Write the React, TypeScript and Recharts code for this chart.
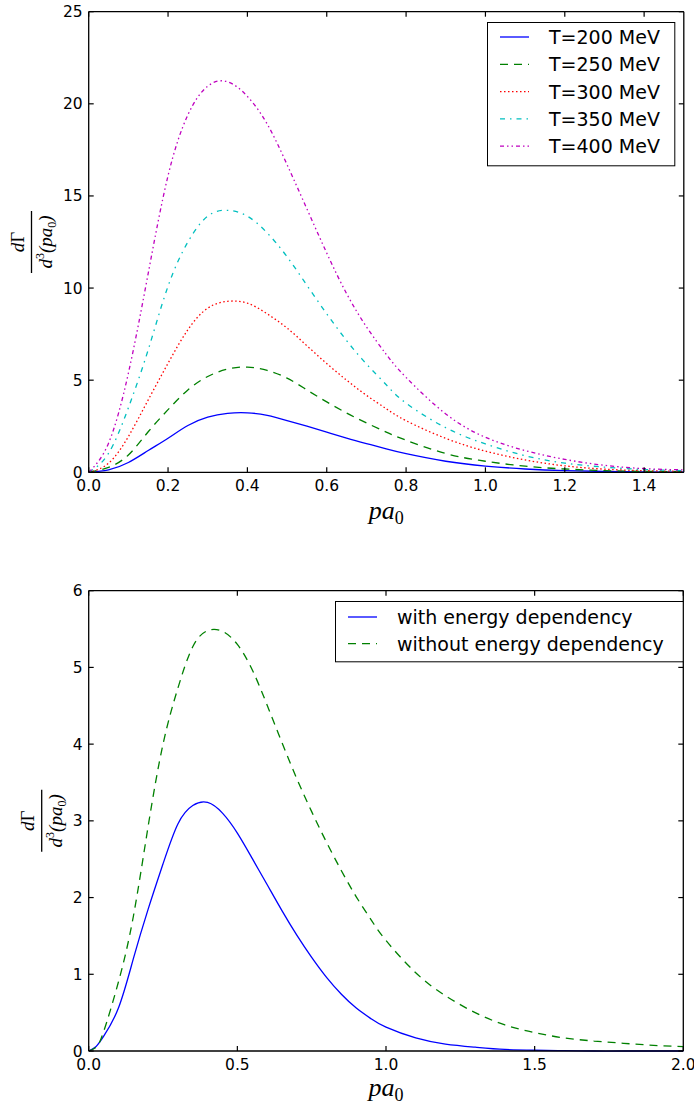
import React from 'react';
import { LineChart, Line, XAxis, YAxis, Legend, ReferenceLine } from 'recharts';

// ---------- top chart data ----------
const xTop = [0, 0.05, 0.1, 0.15, 0.2, 0.25, 0.3, 0.35, 0.4, 0.45, 0.5, 0.55, 0.6, 0.65, 0.7, 0.75, 0.8, 0.9, 1.0, 1.1, 1.2, 1.3, 1.4, 1.5];
const t200 = [0, 0.13, 0.53, 1.18, 1.85, 2.54, 2.99, 3.2, 3.23, 3.09, 2.81, 2.5, 2.18, 1.86, 1.56, 1.27, 1.01, 0.6, 0.34, 0.18, 0.09, 0.05, 0.02, 0.01];
const t250 = [0, 0.27, 0.94, 2.2, 3.4, 4.47, 5.2, 5.6, 5.71, 5.53, 5.11, 4.47, 3.82, 3.22, 2.68, 2.18, 1.74, 1.02, 0.6, 0.33, 0.18, 0.09, 0.05, 0.03];
const t300 = [0, 0.49, 1.94, 3.93, 5.92, 7.74, 8.91, 9.28, 9.18, 8.6, 7.83, 6.87, 5.9, 5.0, 4.18, 3.45, 2.8, 1.84, 1.15, 0.67, 0.35, 0.17, 0.09, 0.05];
const t350 = [0, 1.03, 3.5, 6.65, 10.1, 12.5, 13.9, 14.22, 13.9, 12.99, 11.7, 10.15, 8.6, 7.15, 5.88, 4.75, 3.75, 2.42, 1.54, 0.9, 0.5, 0.28, 0.15, 0.09];
const t400 = [0, 1.58, 5.38, 10.8, 16.1, 19.4, 20.96, 21.2, 20.4, 18.9, 16.7, 14.3, 11.9, 9.7, 7.9, 6.4, 5.15, 3.17, 1.9, 1.18, 0.7, 0.38, 0.2, 0.13];
const topXTicks = [0, 0.2, 0.4, 0.6, 0.8, 1.0, 1.2, 1.4];
const topYTicks = [0, 5, 10, 15, 20, 25];
const topNames = ['T=200 MeV', 'T=250 MeV', 'T=300 MeV', 'T=350 MeV', 'T=400 MeV'];

// ---------- bottom chart data ----------
const xBot = [0, 0.025, 0.05, 0.1, 0.15, 0.2, 0.25, 0.3, 0.35, 0.4, 0.45, 0.5, 0.55, 0.6, 0.65, 0.7, 0.75, 0.8, 0.85, 0.9, 0.95, 1.0, 1.1, 1.2, 1.3, 1.4, 1.5, 1.6, 1.7, 1.8, 1.9, 2.0];
const withE = [0, 0.06, 0.19, 0.56, 1.2, 1.85, 2.44, 2.96, 3.2, 3.24, 3.1, 2.84, 2.51, 2.17, 1.83, 1.51, 1.22, 0.96, 0.74, 0.56, 0.42, 0.31, 0.17, 0.09, 0.05, 0.02, 0.01, 0.005, 0, 0, 0, 0];
const withoutE = [0, 0.05, 0.25, 0.9, 1.75, 2.93, 4.0, 4.73, 5.27, 5.48, 5.47, 5.3, 4.97, 4.51, 4.02, 3.55, 3.12, 2.72, 2.35, 2.01, 1.71, 1.44, 1.02, 0.72, 0.5, 0.34, 0.24, 0.17, 0.13, 0.1, 0.074, 0.057];
const botXTicks = [0, 0.5, 1.0, 1.5, 2.0];
const botYTicks = [0, 1, 2, 3, 4, 5, 6];
const botNames = ['with energy dependency', 'without energy dependency'];

const topSeries = [
  { key: 't200', name: topNames[0], values: t200, color: '#0000ff', dash: undefined },
  { key: 't250', name: topNames[1], values: t250, color: '#008000', dash: '8 6' },
  { key: 't300', name: topNames[2], values: t300, color: '#ff0000', dash: '1.5 2.5' },
  { key: 't350', name: topNames[3], values: t350, color: '#00bfbf', dash: '5 5 1.5 5' },
  { key: 't400', name: topNames[4], values: t400, color: '#bf00bf', dash: '4 3 1.5 3 1.5 3' },
];
const botSeries = [
  { key: 'withE', name: botNames[0], values: withE, color: '#0000ff', dash: undefined },
  { key: 'withoutE', name: botNames[1], values: withoutE, color: '#008000', dash: '8 6' },
];

const topData = xTop.map((x, i) => {
  const row: any = { x };
  topSeries.forEach((s) => (row[s.key] = s.values[i]));
  return row;
});
const botData = xBot.map((x, i) => {
  const row: any = { x };
  botSeries.forEach((s) => (row[s.key] = s.values[i]));
  return row;
});

const SANS = "'DejaVu Sans', sans-serif";
const SERIF = "'Liberation Serif', 'DejaVu Serif', serif";
const TICK_FS = 15.5;
const X_MARGIN = 8;
const Y_MARGIN = 6;
const TICK_LEN = 5;
const YAXIS_W = 88.7;

const YFrac = ({ cx, cy }: { cx: number; cy: number }) => (
  <g transform={`translate(${cx},${cy}) rotate(-90)`} fontFamily={SERIF} fill="#000">
    <text x={0} y={-8} textAnchor="middle" fontSize={19} fontStyle="italic">
      d<tspan fontStyle="normal">Γ</tspan>
    </text>
    <line x1={-31} x2={31} y1={0} y2={0} stroke="#000" strokeWidth={1.3} />
    <text x={0} y={20} textAnchor="middle" fontSize={19} fontStyle="italic">
      d
      <tspan fontSize={12} dy={-8} fontStyle="normal">3</tspan>
      <tspan dy={8}>(pa</tspan>
      <tspan fontSize={12} dy={4} fontStyle="normal">0</tspan>
      <tspan dy={-4}>)</tspan>
    </text>
  </g>
);

const XLab = ({ cx, y }: { cx: number; y: number }) => (
  <text x={cx} y={y} textAnchor="middle" fontFamily={SERIF} fontSize={26} fontStyle="italic" fill="#000">
    pa<tspan fontSize={18} dy={5} fontStyle="normal">0</tspan>
  </text>
);

const LegendBox = ({ items, width, height, firstRow, gap }: any) => (
  <svg width={width + 2} height={height + 2} style={{ display: 'block' }}>
    <rect x={0.5} y={0.5} width={width} height={height} fill="#fff" stroke="#000" strokeWidth={1} />
    {items.map((it: any, i: number) => {
      const cy = firstRow + i * gap;
      return (
        <g key={it.key}>
          <line x1={13} x2={42} y1={cy} y2={cy} stroke={it.color} strokeWidth={1.3} strokeDasharray={it.dash} />
          <text x={62} y={cy + 7} fontSize={19} fontFamily={SANS} fill="#000">
            {it.name}
          </text>
        </g>
      );
    })}
  </svg>
);

const fmt1 = (v: number) => v.toFixed(1);

const XTick = (props: any) => {
  const { x, y, payload, plotH } = props;
  const ay = y - X_MARGIN;
  return (
    <g>
      <line x1={x} x2={x} y1={ay} y2={ay - TICK_LEN} stroke="#000" strokeWidth={1.2} />
      <line x1={x} x2={x} y1={ay - plotH} y2={ay - plotH + TICK_LEN} stroke="#000" strokeWidth={1.2} />
      <text x={x} y={y} dy="0.71em" textAnchor="middle" fontSize={TICK_FS} fontFamily={SANS} fill="#000">
        {fmt1(payload.value)}
      </text>
    </g>
  );
};

const YTick = (props: any) => {
  const { x, y, payload, plotW } = props;
  const ax = x + Y_MARGIN;
  return (
    <g>
      <line x1={ax} x2={ax + TICK_LEN} y1={y} y2={y} stroke="#000" strokeWidth={1.2} />
      <line x1={ax + plotW} x2={ax + plotW - TICK_LEN} y1={y} y2={y} stroke="#000" strokeWidth={1.2} />
      <text x={x} y={y} dy="0.355em" textAnchor="end" fontSize={TICK_FS} fontFamily={SANS} fill="#000">
        {String(payload.value)}
      </text>
    </g>
  );
};

function Panel({ data, series, xMax, yMax, xTicks, yTicks, marginTop, marginRight, xAxisH, fracX, xLabY, legend }: any) {
  const H = 555;
  const W = 694;
  const plotH = H - marginTop - xAxisH;
  const plotW = W - marginRight - YAXIS_W;
  return (
    <LineChart width={W} height={H} data={data} margin={{ top: marginTop, right: marginRight, bottom: 0, left: 0 }}>
      <XAxis
        dataKey="x"
        type="number"
        domain={[0, xMax]}
        ticks={xTicks}
        tickLine={false}
        tickSize={0}
        tickMargin={X_MARGIN}
        height={xAxisH}
        axisLine={{ stroke: '#000', strokeWidth: 1.3 }}
        tick={(p: any) => <XTick {...p} plotH={plotH} />}
        interval={0}
        label={{ content: (p: any) => <XLab cx={p.viewBox.x + p.viewBox.width / 2} y={p.viewBox.y + xLabY} /> }}
      />
      <YAxis
        type="number"
        domain={[0, yMax]}
        ticks={yTicks}
        tickLine={false}
        tickSize={0}
        tickMargin={Y_MARGIN}
        width={YAXIS_W}
        axisLine={{ stroke: '#000', strokeWidth: 1.3 }}
        tick={(p: any) => <YTick {...p} plotW={plotW} />}
        interval={0}
        label={{ content: (p: any) => <YFrac cx={fracX} cy={p.viewBox.y + p.viewBox.height / 2} /> }}
      />
      <ReferenceLine y={yMax} stroke="#000" strokeWidth={1.3} />
      <ReferenceLine x={xMax} stroke="#000" strokeWidth={1.3} />
      {series.map((s: any) => (
        <Line
          key={s.key}
          dataKey={s.key}
          name={s.name}
          type="natural"
          stroke={s.color}
          strokeWidth={1.3}
          strokeDasharray={s.dash}
          dot={false}
          activeDot={false}
          isAnimationActive={false}
        />
      ))}
      <Legend
        layout="horizontal"
        verticalAlign="middle"
        align="center"
        wrapperStyle={{ position: 'absolute', left: legend.left, top: legend.top, width: legend.width + 2, height: legend.height + 2 }}
        content={() => <LegendBox items={series} width={legend.width} height={legend.height} firstRow={legend.firstRow} gap={legend.gap} />}
      />
    </LineChart>
  );
}

export default function App() {
  return (
    <div style={{ position: 'absolute', left: 0, top: 0, width: 694, height: 1110, background: '#fff' }}>
      <Panel
        data={topData}
        series={topSeries}
        xMax={1.5}
        yMax={25}
        xTicks={topXTicks}
        yTicks={topYTicks}
        marginTop={11.7}
        marginRight={10.2}
        xAxisH={82.7}
        fracX={31.5}
        xLabY={46.5}
        legend={{ left: 486.7, top: 21.7, width: 187.3, height: 143.3, firstRow: 15, gap: 27.3 }}
      />
      <Panel
        data={botData}
        series={botSeries}
        xMax={2}
        yMax={6}
        xTicks={botXTicks}
        yTicks={botYTicks}
        marginTop={35.7}
        marginRight={10.7}
        xAxisH={59}
        fracX={41.7}
        xLabY={45}
        legend={{ left: 335, top: 45.7, width: 347.7, height: 60.3, firstRow: 16, gap: 26.6 }}
      />
    </div>
  );
}
